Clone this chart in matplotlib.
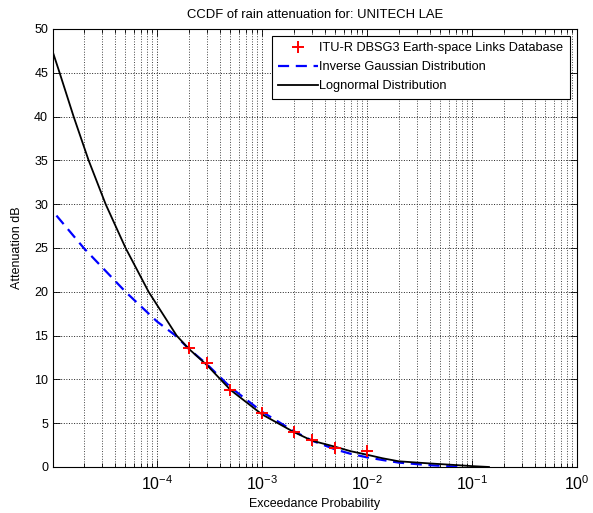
import matplotlib
matplotlib.use('Agg')
import matplotlib.pyplot as plt
from matplotlib.ticker import FixedLocator, LogLocator, MultipleLocator, NullFormatter

plt.rcParams['font.family'] = ['Liberation Sans', 'DejaVu Sans']
plt.rcParams['mathtext.fontset'] = 'custom'
plt.rcParams['mathtext.rm'] = 'Liberation Sans'
plt.rcParams['mathtext.it'] = 'Liberation Sans'

# measured points (ITU-R DBSG3)
meas_p = [2e-4, 3e-4, 5e-4, 1e-3, 2e-3, 3e-3, 5e-3, 1e-2]
meas_db = [13.6, 11.9, 8.8, 6.2, 4.0, 3.1, 2.2, 1.8]

# inverse gaussian fit
ig_p = [1.1e-5, 2e-5, 5e-5, 1e-4, 1.5e-4, 2e-4, 3e-4, 5e-4, 1e-3, 2e-3,
        3e-3, 5e-3, 7e-3, 1e-2, 1.4e-2, 2e-2, 4e-2, 8e-2]
ig_db = [28.7, 25.0, 20.0, 16.6, 15.0, 13.5, 11.7, 9.1, 6.3, 4.1,
         3.0, 2.0, 1.5, 1.1, 0.8, 0.5, 0.2, 0.0]

# lognormal fit
ln_p = [1.02e-5, 1.179e-5, 1.603e-5, 2.228e-5, 3.236e-5, 5.01e-5, 8.3e-5, 1.535e-4,
        2e-4, 3e-4, 5e-4, 1e-3, 2e-3, 3e-3, 5e-3, 7e-3, 1e-2, 1.4e-2, 2e-2,
        4e-2, 7e-2, 1e-1, 1.45e-1]
ln_db = [47.3, 45.0, 40.0, 35.0, 30.0, 25.0, 20.0, 15.0,
         13.5, 11.6, 8.8, 6.0, 4.0, 3.0, 2.3, 1.8, 1.4, 1.0, 0.65,
         0.4, 0.22, 0.1, 0.0]

xticks = [1e-4, 1e-3, 1e-2, 1e-1, 1e0]

fig = plt.figure(figsize=(5.93, 5.13), dpi=100)
fig.patch.set_facecolor('white')
ax = fig.add_axes([0.0894, 0.0897, 0.8836, 0.8538])

ax.plot(meas_p, meas_db, '+', color='red', markersize=9, markeredgewidth=1.4,
        label='ITU-R DBSG3 Earth-space Links Database', zorder=4)
ax.plot(ig_p, ig_db, '--', color='blue', linewidth=1.6, dashes=(5, 3),
        label='Inverse Gaussian Distribution', zorder=3)
ax.plot(ln_p, ln_db, '-', color='black', linewidth=1.3,
        label='Lognormal Distribution', zorder=3)

ax.set_xscale('log')
ax.set_xlim(1.02e-5, 1)
ax.set_ylim(0, 50)
ax.yaxis.set_major_locator(MultipleLocator(5))
ax.xaxis.set_major_locator(FixedLocator(xticks))
ax.set_xticklabels([r'$10^{%d}$' % e for e in range(-4, 1)])
ax.xaxis.set_minor_locator(LogLocator(base=10, subs=range(2, 10), numticks=20))
ax.xaxis.set_minor_formatter(NullFormatter())

ax.grid(True, which='major', axis='both', linestyle=':', color='#222222', linewidth=0.7)
ax.grid(True, which='minor', axis='x', linestyle=':', color='#444444', linewidth=0.7)

ax.tick_params(which='both', direction='in', top=True, right=True,
               colors='black', width=0.6)
ax.tick_params(axis='y', labelsize=9)
ax.tick_params(axis='x', labelsize=11.5, pad=5)
ax.tick_params(which='major', length=5)
ax.tick_params(which='minor', length=3)
for s in ax.spines.values():
    s.set_linewidth(0.8)

ax.set_title('CCDF of rain attenuation for: UNITECH LAE', fontsize=9.4, pad=8)
ax.set_xlabel('Exceedance Probability', fontsize=9, labelpad=4)
ax.set_ylabel('Attenuation dB', fontsize=9, labelpad=8)

leg = ax.legend(loc='upper right', fontsize=9.2, numpoints=1, handlelength=3.1,
                handletextpad=0.15, labelspacing=0.55, borderpad=0.5,
                borderaxespad=0.55, fancybox=False, framealpha=1,
                edgecolor='black')
leg.get_frame().set_linewidth(0.8)

plt.savefig('out.png', dpi=100, facecolor='white')
